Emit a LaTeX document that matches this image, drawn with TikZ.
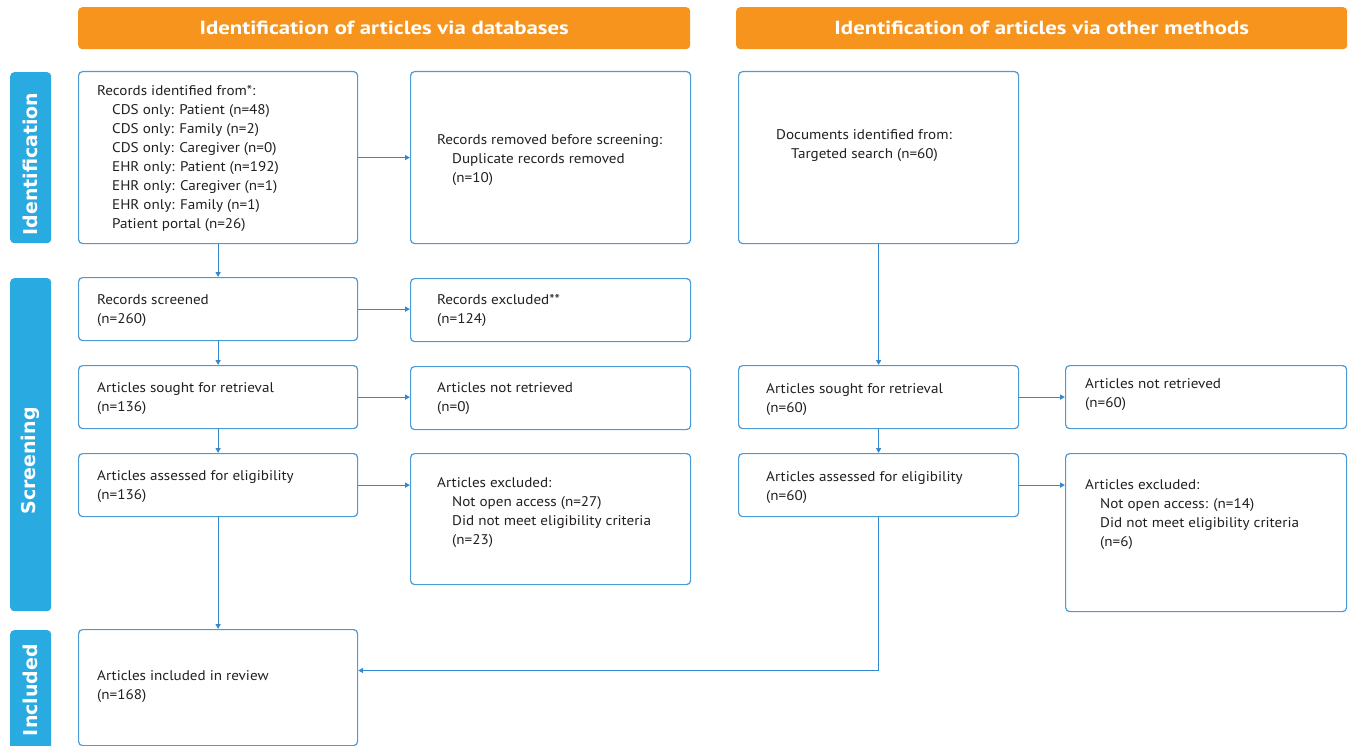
\documentclass[tikz,border=0pt]{standalone}
\usepackage{fontspec}
\setmainfont{PT Sans}[FakeStretch=1.08]
\newfontfamily\hdrfont{PT Sans}[FakeStretch=1.2]
\newfontfamily\sidefont{DejaVu Sans}
\usetikzlibrary{arrows.meta,calc}
\definecolor{hdrc}{HTML}{F7941D}
\definecolor{sidec}{HTML}{29ABE2}
\definecolor{bordc}{HTML}{4C9BD6}
\definecolor{linc}{HTML}{3388D2}
\definecolor{txtc}{HTML}{231F20}
\tikzset{
  box/.style={draw=bordc, line width=1.2pt, rounded corners=4pt, fill=white, anchor=north west, inner sep=0pt},
  hdrbox/.style={fill=hdrc, rounded corners=4pt, anchor=north west, text=white, font=\hdrfont\bfseries\fontsize{19}{22}\selectfont, minimum width=612pt, minimum height=42pt, inner sep=0pt},
  sidebar/.style={fill=sidec, rounded corners=4pt, anchor=north west, minimum width=41pt, inner sep=0pt},
  sidelabel/.style={rotate=90, text=white, font=\sidefont\bfseries\fontsize{19}{22}\selectfont, inner sep=0pt},
  txt/.style={anchor=north west, inner sep=0pt, align=left, text=txtc, font=\fontsize{14}{19}\selectfont},
  arr/.style={draw=linc, line width=1.2pt, -{Triangle[length=5pt,width=5pt]}}
}
\newcommand{\ind}{\hspace*{15pt}}
\begin{document}
\begin{tikzpicture}[x=1pt,y=-1pt]
\useasboundingbox (0,0) rectangle (1351,746);
% headers
\node[hdrbox] (h1) at (78,7) {Identification of articles via databases};
\node[hdrbox, minimum width=611pt] (h2) at (736,7) {Identification of articles via other methods};
% side bars
\node[sidebar, minimum height=171pt] (s1) at (10,72) {};
\node[sidebar, minimum height=333pt] (s2) at (10,278) {};
\node[sidebar, minimum height=125pt] (s3) at (10,630) {};
\node[sidelabel] (l1) at (30.5,164) {Identification};
\node[sidelabel] (l2) at (30.5,461) {Screening};
\node[sidelabel] (l3) at (30.5,690) {Included};
% boxes
\node[box, minimum width=279pt, minimum height=172pt] (A) at (78,71) {};
\node[box, minimum width=280pt, minimum height=172pt] (B) at (410,71) {};
\node[box, minimum width=280pt, minimum height=172pt] (C) at (738,71) {};
\node[box, minimum width=279pt, minimum height=63pt] (scr) at (78,277) {};
\node[box, minimum width=280pt, minimum height=63pt] (exc) at (410,278) {};
\node[box, minimum width=279pt, minimum height=63pt] (ls) at (78,365) {};
\node[box, minimum width=280pt, minimum height=63pt] (lnr) at (410,366) {};
\node[box, minimum width=279pt, minimum height=63pt] (la) at (78,453) {};
\node[box, minimum width=280pt, minimum height=131pt] (le) at (410,453) {};
\node[box, minimum width=280pt, minimum height=63pt] (rs) at (738,365) {};
\node[box, minimum width=281pt, minimum height=63pt] (rnr) at (1065,365) {};
\node[box, minimum width=280pt, minimum height=63pt] (ra) at (738,453) {};
\node[box, minimum width=281pt, minimum height=158pt] (re) at (1065,453) {};
\node[box, minimum width=279pt, minimum height=116pt] (inc) at (78,629) {};
% texts
\node[txt] (tA) at (97,85) {Records identified from*:\\\ind CDS only: Patient (n=48)\\\ind CDS only: Family (n=2)\\\ind CDS only: Caregiver (n=0)\\\ind EHR only: Patient (n=192)\\\ind EHR only: Caregiver (n=1)\\\ind EHR only: Family (n=1)\\\ind Patient portal (n=26)};
\node[txt] (tB) at (437,134) {Records removed before screening:\\\ind Duplicate records removed\\\ind (n=10)};
\node[txt] (tC) at (776,129) {Documents identified from:\\\ind Targeted search (n=60)};
\node[txt] (tscr) at (97,294) {Records screened\\(n=260)};
\node[txt] (texc) at (437,294) {Records excluded**\\(n=124)};
\node[txt] (tls) at (97,382) {Articles sought for retrieval\\(n=136)};
\node[txt] (tlnr) at (437,382) {Articles not retrieved\\(n=0)};
\node[txt] (tla) at (97,470) {Articles assessed for eligibility\\(n=136)};
\node[txt] (tle) at (437,477) {Articles excluded:\\\ind Not open access (n=27)\\\ind Did not meet eligibility criteria\\\ind (n=23)};
\node[txt] (trs) at (766,383) {Articles sought for retrieval\\(n=60)};
\node[txt] (trnr) at (1085,378) {Articles not retrieved\\(n=60)};
\node[txt] (tra) at (766,471) {Articles assessed for eligibility\\(n=60)};
\node[txt] (tre) at (1085,479) {Articles excluded:\\\ind Not open access: (n=14)\\\ind Did not meet eligibility criteria\\\ind (n=6)};
\node[txt] (tinc) at (97,670) {Articles included in review\\(n=168)};
% connectors
\draw[arr] (A.south) -- (scr.north);
\draw[arr] (A.east) -- (A.east -| B.west);
\draw[arr] (scr.east) -- (scr.east -| exc.west);
\draw[arr] (scr.south) -- (ls.north);
\draw[arr] (ls.east) -- (ls.east -| lnr.west);
\draw[arr] (ls.south) -- (la.north);
\draw[arr] (la.east) -- (la.east -| le.west);
\draw[arr] (la.south) -- (inc.north);
\draw[arr] (C.south) -- (rs.north);
\draw[arr] (rs.east) -- (rs.east -| rnr.west);
\draw[arr] (rs.south) -- (ra.north);
\draw[arr] (ra.east) -- (ra.east -| re.west);
\draw[arr] (ra.south) |- ($(inc.north east)!0.354!(inc.south east)$);
\end{tikzpicture}
\end{document}
